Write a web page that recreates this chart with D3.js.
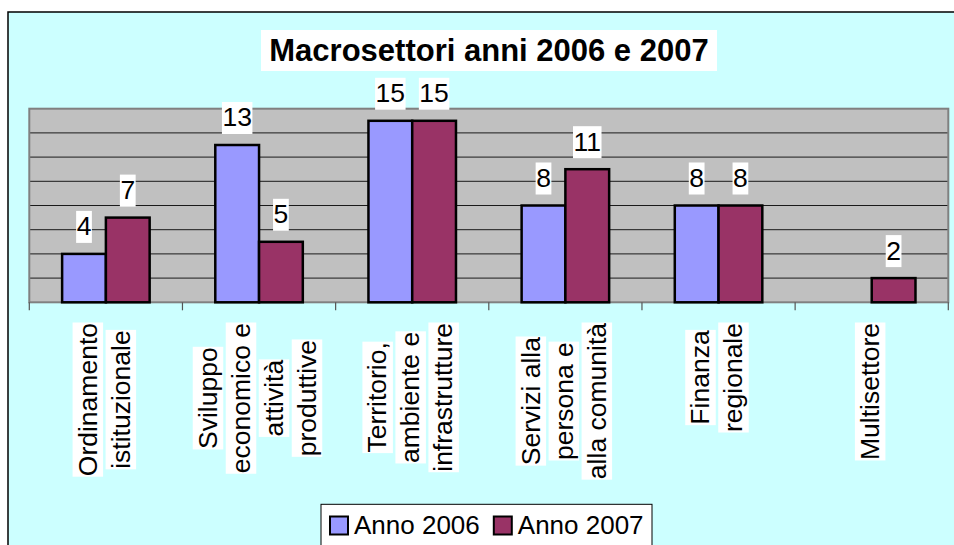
<!DOCTYPE html>
<html lang="it">
<head>
<meta charset="utf-8">
<title>Macrosettori anni 2006 e 2007</title>
<script src="https://d3js.org/d3.v7.min.js"></script>
<style>
  body { margin: 0; background: #fff; }
  text { font-family: "Liberation Sans", Arial, sans-serif; fill: #000; }
</style>
</head>
<body>
<script>
// data
var categories = [
  ["Ordinamento", "istituzionale"],
  ["Sviluppo", "economico e", "attività", "produttive"],
  ["Territorio,", "ambiente e", "infrastrutture"],
  ["Servizi alla", "persona e", "alla comunità"],
  ["Finanza", "regionale"],
  ["Multisettore"]
];
var seriesNames = ["Anno 2006", "Anno 2007"];
var anno2006 = [4, 13, 15, 8, 8, null];
var anno2007 = [7, 5, 15, 11, 8, 2];
var colors = ["#9999FF", "#993366"];
var yTicks = [0, 2, 4, 6, 8, 10, 12, 14, 16];

var w = 954, h = 545;
var plot = {left: 29.3, right: 948.3, top: 108.7, bottom: 302.3};

var svg = d3.select("body").append("svg")
  .attr("width", w)
  .attr("height", h);

// chart frame (runs off the bottom / right)
svg.append("rect")
  .attr("x", 8).attr("y", 12)
  .attr("width", 980).attr("height", 580)
  .attr("fill", "#CCFFFF")
  .attr("stroke", "#000")
  .attr("stroke-width", 1.5);

// title
var title = svg.append("g");
title.append("rect")
  .attr("x", 261).attr("y", 30)
  .attr("width", 456).attr("height", 41)
  .attr("fill", "#fff");
title.append("text")
  .attr("x", 489).attr("y", 61)
  .attr("text-anchor", "middle")
  .attr("font-size", "31px")
  .attr("font-weight", "bold")
  .text("Macrosettori anni 2006 e 2007");

// scales
var catKeys = categories.map((d, i) => i);
var x0 = d3.scaleBand()
  .domain(catKeys)
  .range([plot.left, plot.right])
  .padding(0);

var x1 = d3.scaleBand()
  .domain([0, 1])
  .range([0, x0.bandwidth()])
  .paddingInner(0)
  .paddingOuter(0.75);

var yScale = d3.scaleLinear()
  .domain([0, 16])
  .range([plot.bottom, plot.top]);

// plot area
svg.append("rect")
  .attr("x", plot.left).attr("y", plot.top)
  .attr("width", plot.right - plot.left)
  .attr("height", plot.bottom - plot.top)
  .attr("fill", "#C0C0C0");

svg.append("g")
  .selectAll("line")
  .data(yTicks.filter(t => t > 0 && t < 16))
  .enter().append("line")
  .attr("x1", plot.left).attr("x2", plot.right)
  .attr("y1", d => yScale(d)).attr("y2", d => yScale(d))
  .attr("stroke", "#1a1a1a")
  .attr("stroke-width", 1);

svg.append("rect")
  .attr("x", plot.left).attr("y", plot.top)
  .attr("width", plot.right - plot.left)
  .attr("height", plot.bottom - plot.top)
  .attr("fill", "none")
  .attr("stroke", "#808080")
  .attr("stroke-width", 2);

// x axis ticks at category boundaries
var boundaries = catKeys.map(k => x0(k)).concat([x0(catKeys[catKeys.length - 1]) + x0.bandwidth()]);
svg.append("g")
  .selectAll("line")
  .data(boundaries)
  .enter().append("line")
  .attr("x1", d => d).attr("x2", d => d)
  .attr("y1", plot.bottom).attr("y2", plot.bottom + 8)
  .attr("stroke", "#555")
  .attr("stroke-width", 1.2);

// bars
var rows = [];
catKeys.forEach(function(k) {
  [anno2006, anno2007].forEach(function(s, si) {
    if (s[k] != null) rows.push({cat: k, s: si, v: s[k]});
  });
});

svg.append("g")
  .selectAll("rect")
  .data(rows)
  .enter().append("rect")
  .attr("x", d => x0(d.cat) + x1(d.s))
  .attr("y", d => yScale(d.v))
  .attr("width", x1.bandwidth())
  .attr("height", d => yScale(0) - yScale(d.v))
  .attr("fill", d => colors[d.s])
  .attr("stroke", "#000")
  .attr("stroke-width", 2.5);

// value labels
var labelG = svg.append("g");
rows.forEach(function(d) {
  var cx = x0(d.cat) + x1(d.s) + x1.bandwidth() / 2;
  var base = yScale(d.v) - 18.6;
  var g = labelG.append("g");
  var r = g.append("rect").attr("fill", "#fff");
  var t = g.append("text")
    .attr("x", cx).attr("y", base)
    .attr("text-anchor", "middle")
    .attr("font-size", "26.5px")
    .text(d.v);
  var tw = t.node().getComputedTextLength();
  r.attr("x", cx - tw / 2 - 0.5).attr("y", base - 24.4)
    .attr("width", tw + 1).attr("height", 32);
});

// category labels (rotated, centred on the longest line)
var catG = svg.append("g");
categories.forEach(function(lines, k) {
  var cx = x0(k) + x0.bandwidth() / 2 - 2;
  var n = lines.length;
  var groups = lines.map(function(line, i) {
    var bx = cx + (i - (n - 1) / 2) * 33;
    var g = catG.append("g");
    var r = g.append("rect").attr("fill", "#fff");
    var t = g.append("text")
      .attr("text-anchor", "middle")
      .attr("font-size", "26.5px")
      .text(line);
    return {g: g, r: r, t: t, bx: bx, w: t.node().getComputedTextLength()};
  });
  var maxW = d3.max(groups, d => d.w);
  var yc = 323 + maxW / 2;
  groups.forEach(function(d) {
    d.g.attr("transform", `translate(${d.bx + 9.2}, ${yc}) rotate(-90)`);
    d.r.attr("x", -d.w / 2 - 0.5).attr("y", -24)
      .attr("width", d.w + 1).attr("height", 30.5);
  });
});

// legend
var legend = svg.append("g");
legend.append("rect")
  .attr("x", 321).attr("y", 504.3)
  .attr("width", 331).attr("height", 60)
  .attr("fill", "#fff")
  .attr("stroke", "#000")
  .attr("stroke-width", 1);

var lx = 330;
seriesNames.forEach(function(name, i) {
  legend.append("rect")
    .attr("x", lx).attr("y", 516.5)
    .attr("width", 18).attr("height", 18)
    .attr("fill", colors[i])
    .attr("stroke", "#000")
    .attr("stroke-width", 2);
  var t = legend.append("text")
    .attr("x", lx + 24).attr("y", 534)
    .attr("font-size", "26px")
    .text(name);
  lx = lx + 24 + t.node().getComputedTextLength() + 14;
});
</script>
</body>
</html>
